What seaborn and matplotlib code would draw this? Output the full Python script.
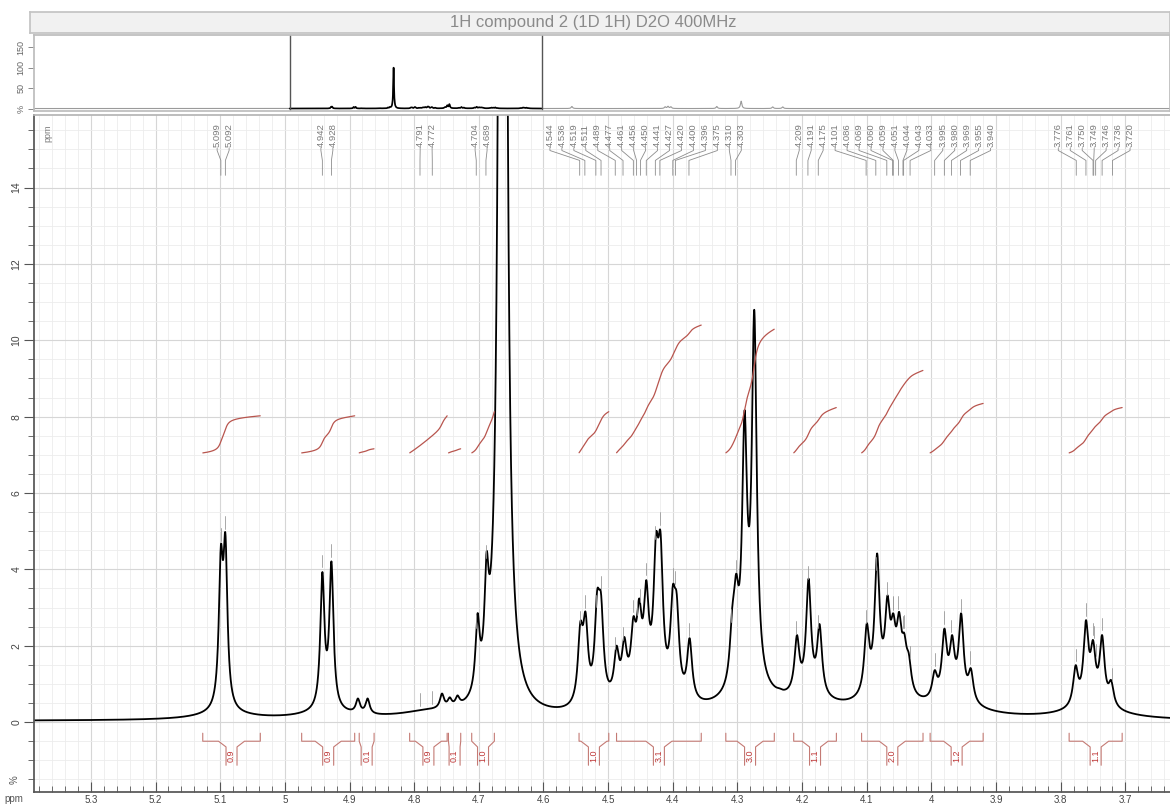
import numpy as np
import pandas as pd
import seaborn as sns
import matplotlib.pyplot as plt
from matplotlib.ticker import MultipleLocator

# picked peak labels, grouped as drawn along the top
label_groups = [
    [5.099, 5.092],
    [4.942, 4.928],
    [4.791, 4.772],
    [4.704, 4.689],
    [4.544, 4.536, 4.519, 4.511, 4.489, 4.477, 4.461, 4.456, 4.450, 4.441,
     4.427, 4.420, 4.400, 4.396, 4.375, 4.310, 4.303],
    [4.209, 4.191, 4.175, 4.101, 4.086, 4.069, 4.060, 4.059, 4.051, 4.044,
     4.043, 4.033, 3.995, 3.980, 3.969, 3.955, 3.940],
    [3.776, 3.761, 3.750, 3.749, 3.746, 3.736, 3.720],
]

# lines of the spectrum: position (ppm) and height read at each top
line_ppm = [5.099, 5.092, 4.942, 4.928, 4.887, 4.872, 4.757, 4.745, 4.733, 4.702, 4.688,
            4.543, 4.535, 4.517, 4.511, 4.487, 4.475, 4.461, 4.452, 4.441, 4.426, 4.419,
            4.400, 4.394, 4.374, 4.308, 4.302, 4.289, 4.274, 4.245, 4.235,
            4.208, 4.190, 4.173, 4.137, 4.125,
            4.100, 4.084, 4.068, 4.059, 4.050, 4.042, 4.035,
            3.995, 3.980, 3.968, 3.954, 3.939,
            3.777, 3.761, 3.750, 3.736, 3.722]
line_top = [4.63, 4.95, 3.93, 4.21, 0.62, 0.62, 0.75, 0.65, 0.70, 2.85, 4.46,
            2.63, 2.89, 3.45, 3.37, 2.00, 2.23, 2.76, 3.24, 3.72, 4.95, 4.98,
            3.58, 3.37, 2.20, 3.02, 3.89, 8.17, 10.8, 0.90, 0.90,
            2.28, 3.76, 2.57, 0.55, 0.50,
            2.59, 4.42, 3.32, 2.85, 2.89, 2.33, 1.80,
            1.36, 2.45, 2.28, 2.85, 1.41,
            1.49, 2.67, 2.15, 2.28, 1.10]

# water (HOD) signal, off scale in the main view
hod_ppm = 4.663
hod_height = 100.0

# broad bases under the multiplets
hump_ppm = [5.095, 4.935, 4.780, 4.450, 4.280, 4.190, 4.070, 3.965, 3.750]
hump_amp = [0.15, 0.15, 0.15, 0.45, 0.50, 0.30, 0.45, 0.30, 0.30]

# signals outside the zoomed window (overview only)
other_ppm = [3.42, 2.77, 2.75, 2.73, 2.41, 2.24, 2.02, 1.95]
other_amp = [5, 4, 5, 4, 5, 18, 4, 4]

# integrals
int_left = [5.127, 4.974, 4.885, 4.807, 4.747, 4.711, 4.545, 4.487, 4.318, 4.213, 4.108, 4.002, 3.787]
int_right = [5.038, 4.892, 4.862, 4.749, 4.728, 4.676, 4.499, 4.356, 4.243, 4.147, 4.013, 3.920, 3.705]
int_value = [0.9, 0.9, 0.1, 0.9, 0.1, 1.0, 1.0, 3.1, 3.0, 1.1, 2.0, 1.2, 1.1]

x_min, x_max = 3.631, 5.388
base = 0.03


def lor(x, x0, g):
    return 1.0 / (1.0 + ((x - x0) / g) ** 2)


def water(x):
    return hod_height * lor(x, hod_ppm, 0.0034)


def background(x):
    y = base + water(x)
    for p, a in zip(hump_ppm, hump_amp):
        y = y + a * lor(x, p, 0.05)
    return y


# line amplitudes so the curve passes through the read tops
pk = np.array(line_ppm)
gam = np.where(pk > 4.6, 0.0038, 0.0046)
target = np.array(line_top) - background(pk)
M = lor(pk[:, None], pk[None, :], gam[None, :])
amp = np.clip(target, 0, None)
for _ in range(5000):
    amp = np.clip(amp + 0.06 * M.T @ (target - M @ amp), 0, None)


def spectrum(x, outside=False):
    y = background(x)
    for p, a, g in zip(pk, amp, gam):
        y = y + a * lor(x, p, g)
    if outside:
        for p, a in zip(other_ppm, other_amp):
            y = y + a * lor(x, p, 0.006)
    return y


sns.set_theme(style='white')
plt.rcParams['font.family'] = ['Liberation Sans', 'DejaVu Sans']

fig = plt.figure(figsize=(11.7, 8.09), dpi=100)
W, H = 1170, 809

# title bar
axt = fig.add_axes([30 / W, 1 - 33 / H, 1140 / W, 21 / H])
axt.set_facecolor('#f1f1f1')
axt.set_xticks([])
axt.set_yticks([])
for s in axt.spines.values():
    s.set_color('#c4c4c4')
axt.text(0.494, 0.5, '1H compound 2 (1D 1H) D2O 400MHz', ha='center', va='center',
         fontsize=12, color='#8a8a8a', transform=axt.transAxes)

# overview
ax0 = fig.add_axes([34 / W, 1 - 111 / H, 1136 / W, 76 / H])
xo = np.linspace(7.17, -0.75, 12000)
ov = pd.DataFrame({'ppm': xo, 'I': spectrum(xo, outside=True)})
sns.lineplot(data=ov, x='ppm', y='I', ax=ax0, color='#9a9a9a', lw=0.8, estimator=None, sort=False)
inwin = ov[(ov.ppm <= x_max) & (ov.ppm >= x_min)]
sns.lineplot(data=inwin, x='ppm', y='I', ax=ax0, color='black', lw=1.2, estimator=None, sort=False)
ax0.axvline(x_max, color='#555555', lw=1)
ax0.axvline(x_min, color='#555555', lw=1)
ax0.set_xlim(7.17, -0.75)
ax0.set_ylim(-6, 180)
ax0.set_xticks([])
ax0.set_yticks([0, 50, 100, 150])
ax0.set_yticklabels(['%', '50', '100', '150'], rotation=90, va='center', fontsize=6.5, color='#666666')
ax0.tick_params(axis='y', left=True, length=4, width=0.6, color='#777777', pad=2)
ax0.set_xlabel('')
ax0.set_ylabel('')
for s in ax0.spines.values():
    s.set_color('#bdbdbd')

# main spectrum
ax = fig.add_axes([34 / W, 1 - 792 / H, 1136 / W, 677 / H])
xm = np.linspace(x_max, x_min, 8000)
ym = spectrum(xm)
df = pd.DataFrame({'ppm': xm, 'I': ym})
sns.lineplot(data=df, x='ppm', y='I', ax=ax, color='black', lw=1.3, estimator=None, sort=False)

ax.set_xlim(x_max, x_min)
ax.set_ylim(-1.83, 15.9)
ax.xaxis.set_minor_locator(MultipleLocator(0.02))
ax.yaxis.set_minor_locator(MultipleLocator(0.5))
xt = [t for t in np.round(np.arange(3.7, 5.31, 0.1), 1)]
ax.set_xticks(xt)
ax.set_xticklabels([f'{t:g}' for t in xt], fontsize=7, color='#444444')
yt = list(range(0, 15, 2))
ax.set_yticks(yt)
ax.set_yticklabels([str(t) for t in yt], rotation=90, va='center', fontsize=7.5, color='#444444')
ax.grid(which='major', color='#d6d6d6', lw=0.8)
ax.grid(which='minor', color='#ececec', lw=0.6)
ax.tick_params(axis='x', which='major', direction='in', length=7, width=0.8, color='#555555', pad=2, bottom=True)
ax.tick_params(axis='x', which='minor', direction='in', length=4, width=0.6, color='#555555', bottom=True)
ax.tick_params(axis='y', which='major', direction='out', length=7, width=0.8, color='#555555', pad=2, left=True)
ax.tick_params(axis='y', which='minor', direction='out', length=4, width=0.6, color='#555555', left=True)
ax.set_xlabel('')
ax.set_ylabel('')
ax.spines['right'].set_visible(False)
ax.spines['top'].set_color('#b5b5b5')
ax.spines['left'].set_color('#555555')
ax.spines['bottom'].set_color('#555555')

# integrals and brackets
icol = '#b8554e'
for L, R, v in zip(int_left, int_right, int_value):
    m = (xm <= L) & (xm >= R)
    seg = ym[m] - base
    if R - hod_ppm > 0.02 or hod_ppm - L > 0.02:
        seg = seg - water(xm[m])
    cum = np.cumsum(np.clip(seg, 0, None))
    ax.plot(xm[m], 7.05 + 1.08 * v * cum / cum[-1], color=icol, lw=0.9)
    c = (L + R) / 2
    half = (L - R) / 2
    b = min(0.0085, half)
    d = max(b, min(b + 0.0116, half))
    for sgn, e in ((1, L), (-1, R)):
        ax.plot([e, e, c + sgn * d, c + sgn * b, c + sgn * b],
                [-0.29, -0.5, -0.5, -0.65, -1.13], color='#c47a74', lw=0.8)
    ax.text(c, -0.89, f'{v:.1f}', rotation=90, ha='center', va='center', fontsize=6.5, color='#c03838')

# peak labels with connectors
sp = 0.0185
for grp in label_groups:
    n = len(grp)
    mid = np.mean(grp)
    for i, p in enumerate(grp):
        q = mid + ((n - 1) / 2 - i) * sp
        ax.plot([q, q, p, p], [15.03, 14.97, 14.71, 14.32], color='#8c8c8c', lw=0.6)
        ax.text(q, 15.07, f'{p:.3f}', rotation=90, ha='center', va='bottom', fontsize=6.8, color='#7a7a7a')
        top = spectrum(np.array([p]))[0]
        if top < 15:
            ax.plot([p, p], [top + 0.12, top + 0.45], color='#9a9a9a', lw=0.6)

ax.text(5.366, 15.42, 'ppm', rotation=90, ha='center', va='center', fontsize=6.5, color='#7a7a7a')
fig.text(15 / W, 1 - 780 / H, '%', rotation=90, ha='center', va='center', fontsize=7, color='#555555')
fig.text(14 / W, 1 - 799 / H, 'ppm', ha='center', va='center', fontsize=7, color='#555555')

fig.savefig('out.png', dpi=100)
